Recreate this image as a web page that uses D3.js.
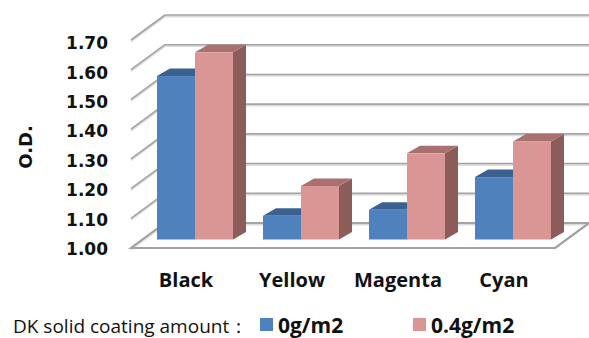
<!DOCTYPE html>
<html>
<head>
<meta charset="utf-8">
<script src="https://cdn.jsdelivr.net/npm/d3@7"></script>
<style>
  html, body { margin: 0; padding: 0; background: #fff; }
  svg { display: block; }
</style>
</head>
<body>
<svg id="chart" width="589" height="338"></svg>
<script>
// Optical density of each ink, with and without the DK solid coating
const categories = ["Black", "Yellow", "Magenta", "Cyan"];
const seriesNames = ["0g/m2", "0.4g/m2"];
const valuesUncoated = [1.55, 1.08, 1.10, 1.21];
const valuesCoated = [1.63, 1.18, 1.29, 1.33];
const yTicks = [1.00, 1.10, 1.20, 1.30, 1.40, 1.50, 1.60, 1.70];
const axisTitle = "O.D.";
const legendTitle = "DK solid coating amount：";

const seriesValues = [valuesUncoated, valuesCoated];
const colors = [
  { front: "#4f81bd", top: "#3b6190", side: "#2f4f78" },
  { front: "#d99694", top: "#a8716f", side: "#8c5c5b" }
];

const svg = d3.select("#chart");

// Oblique 3D geometry: floor front edge, floor depth, bar plane and bar depth
const floorLeft = 131, floorRight = 555;
const depth = { dx: 34, dy: -25 };
const barShift = { dx: 11, dy: -8.5 };
const barDepth = { dx: 13, dy: -7.5 };

const yFront = d3.scaleLinear().domain([1.0, 1.7]).range([248, 40]);
const yBack = v => yFront(v) + depth.dy;
const yBar = v => yFront(v) + barShift.dy;

const x0 = d3.scaleBand().domain(categories).range([floorLeft, floorRight]);
const x1 = d3.scaleBand().domain(seriesNames).range([15, x0.bandwidth() - 15]);

const gridColor = "#a2a2a2";
const gridShade = "#dcdcdc";

// Floor
const base = yFront(1.0);
svg.append("polygon")
  .attr("points", [
    [floorLeft, base],
    [floorRight, base],
    [floorRight + depth.dx, base + depth.dy],
    [floorLeft + depth.dx, base + depth.dy]
  ].map(p => p.join(",")).join(" "))
  .attr("fill", "#fff")
  .attr("stroke", gridColor)
  .attr("stroke-width", 2);

// Gridlines on back wall and side wall
const grid = svg.append("g");
yTicks.forEach(v => {
  [[gridShade, 1.6], [gridColor, 0]].forEach(([c, off]) => {
    grid.append("line")
      .attr("x1", floorLeft + depth.dx).attr("x2", 589)
      .attr("y1", yBack(v) + off).attr("y2", yBack(v) + off)
      .attr("stroke", c).attr("stroke-width", 1.6);
    grid.append("line")
      .attr("x1", floorLeft).attr("y1", yFront(v) + off)
      .attr("x2", floorLeft + depth.dx).attr("y2", yBack(v) + off)
      .attr("stroke", c).attr("stroke-width", 1.6);
  });
});
// Floor front and right edges on top of the wall lines
svg.append("polyline")
  .attr("points", [
    [floorLeft, base],
    [floorRight, base],
    [floorRight + depth.dx, base + depth.dy]
  ].map(p => p.join(",")).join(" "))
  .attr("fill", "none")
  .attr("stroke", gridColor)
  .attr("stroke-width", 2);

// 3D columns
const bars = svg.append("g");
categories.forEach((cat, ci) => {
  seriesNames.forEach((s, si) => {
    const v = seriesValues[si][ci];
    const col = colors[si];
    const xl = x0(cat) + x1(s) + barShift.dx;
    const xr = xl + x1.bandwidth();
    const yt = yBar(v);
    const yb = yBar(1.0);
    const g = bars.append("g");
    // right side face
    g.append("polygon")
      .attr("points", [
        [xr, yt], [xr + barDepth.dx, yt + barDepth.dy],
        [xr + barDepth.dx, yb + barDepth.dy], [xr, yb]
      ].map(p => p.join(",")).join(" "))
      .attr("fill", col.side);
    // top face
    g.append("polygon")
      .attr("points", [
        [xl, yt], [xr, yt],
        [xr + barDepth.dx, yt + barDepth.dy], [xl + barDepth.dx, yt + barDepth.dy]
      ].map(p => p.join(",")).join(" "))
      .attr("fill", col.top);
    // front face
    g.append("rect")
      .attr("x", xl).attr("y", yt)
      .attr("width", x1.bandwidth()).attr("height", yb - yt)
      .attr("fill", col.front);
  });
});

// Value axis labels
const yLabel = d3.scaleLinear().domain([1.0, 1.7]).range([248.5, 42.5]);
const yAxis = d3.axisLeft(yLabel)
  .tickValues(yTicks)
  .tickFormat(d3.format(".2f"))
  .tickSize(0)
  .tickPadding(0);
svg.append("g")
  .attr("transform", "translate(108,0)")
  .call(yAxis)
  .call(g => g.select(".domain").remove())
  .selectAll("text")
  .attr("font-family", "'DejaVu Sans', sans-serif")
  .attr("font-weight", "bold")
  .attr("font-size", 17)
  .attr("fill", "#111")
  .attr("dy", "0.36em");

svg.append("text")
  .attr("transform", "translate(32,147) rotate(-90)")
  .attr("text-anchor", "middle")
  .attr("font-family", "'DejaVu Sans', sans-serif")
  .attr("font-weight", "bold")
  .attr("font-size", 18)
  .attr("fill", "#111")
  .text(axisTitle);

// Category axis labels
const xAxis = d3.axisBottom(x0).tickSize(0).tickPadding(0);
svg.append("g")
  .attr("transform", "translate(2,287)")
  .call(xAxis)
  .call(g => g.select(".domain").remove())
  .selectAll("text")
  .attr("dy", 0)
  .attr("font-family", "'Open Sans', sans-serif")
  .attr("font-weight", "bold")
  .attr("font-size", 20)
  .attr("fill", "#111");

// Legend
const legend = svg.append("g");
legend.append("text")
  .attr("x", 13).attr("y", 333)
  .attr("font-family", "'Open Sans', sans-serif")
  .attr("font-size", 19)
  .attr("fill", "#111")
  .text(legendTitle);

const legendX = d3.scaleOrdinal().domain(seriesNames).range([260, 413]);
seriesNames.forEach((s, si) => {
  legend.append("rect")
    .attr("x", legendX(s)).attr("y", 318)
    .attr("width", 13).attr("height", 13)
    .attr("fill", colors[si].front);
  legend.append("text")
    .attr("x", legendX(s) + 18).attr("y", 333)
    .attr("font-family", "'Open Sans', sans-serif")
    .attr("font-weight", "bold")
    .attr("font-size", 21)
    .attr("fill", "#111")
    .text(s);
});
</script>
</body>
</html>
